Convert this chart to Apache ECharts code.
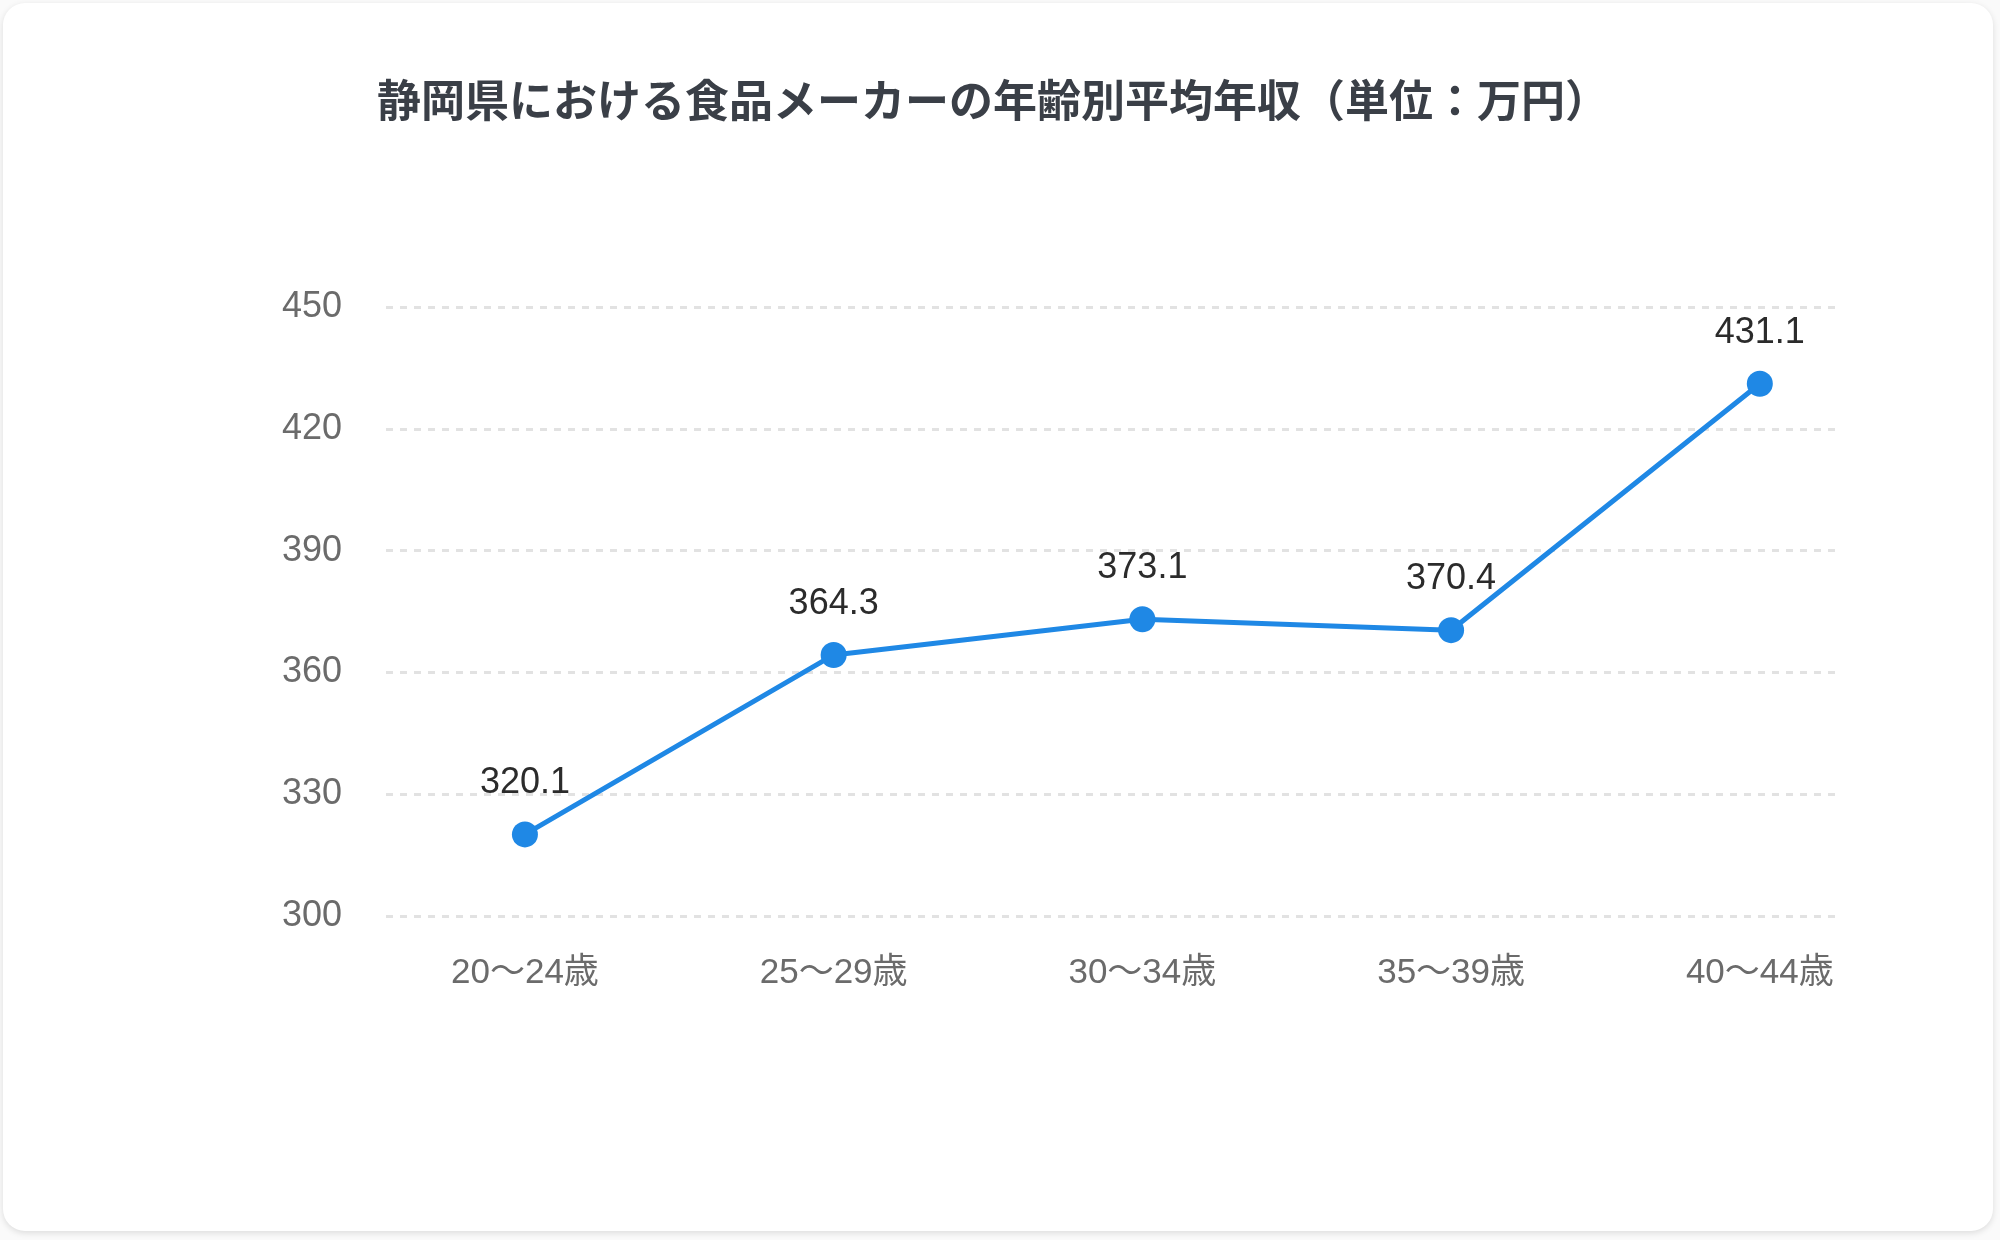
<!DOCTYPE html>
<html lang="ja">
<head>
<meta charset="utf-8">
<title>静岡県における食品メーカーの年齢別平均年収</title>
<script src="https://cdn.jsdelivr.net/npm/echarts@6/dist/echarts.min.js"></script>
<style>
  html, body { margin: 0; padding: 0; background: #fafafa; }
  .card {
    position: absolute; left: 3px; top: 3px; width: 1990px; height: 1228px;
    background: #fff; border-radius: 22px;
    box-shadow: 0 2px 6px rgba(0, 0, 0, 0.12);
  }
  #chart { position: absolute; left: 0; top: 0; width: 2000px; height: 1240px; }
</style>
</head>
<body>
<div class="card"></div>
<div id="chart"></div>
<script>
// 年齢区分
const categories = ["20〜24歳", "25〜29歳", "30〜34歳", "35〜39歳", "40〜44歳"];
// 平均年収（万円）
const salaries = [320.1, 364.3, 373.1, 370.4, 431.1];
// 縦軸の目盛り
const yTicks = [300, 330, 360, 390, 420, 450];

const numFont = '"Liberation Sans", "Noto Sans CJK JP", sans-serif';

const chart = echarts.init(document.getElementById("chart"));

chart.setOption({
  backgroundColor: "transparent",
  animation: false,
  title: {
    text: "静岡県における食品メーカーの年齢別平均年収（単位：万円）",
    left: 988,
    top: 73,
    textAlign: "center",
    textStyle: {
      fontFamily: '"Noto Sans CJK JP", sans-serif',
      fontSize: 44,
      fontWeight: 600,
      color: "#3a3f47"
    }
  },
  grid: {
    left: 386,
    right: 163,
    top: 307,
    bottom: 324
  },
  xAxis: {
    // 値軸にして目盛り位置を区分の中心に合わせる
    type: "value",
    min: -0.45,
    max: 4.25,
    axisLine: { show: false },
    axisTick: { show: false },
    splitLine: { show: false },
    axisLabel: {
      customValues: categories.map((c, i) => i),
      formatter: (v) => categories[Math.round(v)],
      margin: 40,
      fontFamily: numFont,
      fontSize: 35,
      color: "#6b6b6b"
    }
  },
  yAxis: {
    type: "value",
    min: yTicks[0],
    max: yTicks[yTicks.length - 1],
    interval: 30,
    axisLine: { show: false },
    axisTick: { show: false },
    axisLabel: {
      margin: 44,
      fontFamily: numFont,
      fontSize: 36,
      color: "#6b6b6b"
    },
    splitLine: {
      lineStyle: { color: "#e2e2e2", type: [7, 7], width: 3 }
    }
  },
  series: [
    {
      type: "line",
      data: salaries.map((v, i) => [i, v]),
      symbol: "circle",
      symbolSize: 26,
      lineStyle: { color: "#1f88e5", width: 5 },
      itemStyle: { color: "#1f88e5" },
      label: {
        show: true,
        position: "top",
        distance: 20,
        formatter: (p) => p.value[1].toFixed(1),
        fontFamily: numFont,
        fontSize: 36,
        fontWeight: 500,
        color: "#2b2b2b"
      }
    }
  ]
});
</script>
</body>
</html>
